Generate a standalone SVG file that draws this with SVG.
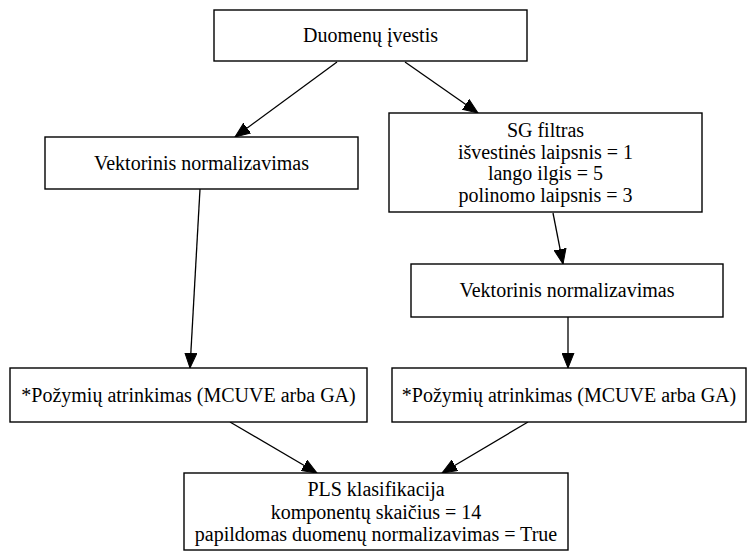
<svg xmlns="http://www.w3.org/2000/svg" width="748" height="552" viewBox="0 0 748 552">
  <defs>
    <style>
      .box { fill: #ffffff; stroke: #000000; stroke-width: 1.4; }
      .lbl { font-family: "Liberation Serif", "Times New Roman", serif; font-size: 20px; fill: #000000; text-anchor: middle; }
      .edge { fill: none; stroke: #000000; stroke-width: 1.3; }
    </style>
    <marker id="arrow" markerUnits="userSpaceOnUse" markerWidth="17" markerHeight="13" refX="15" refY="6.5" orient="auto">
      <path d="M0,0.5 L15,6.5 L0,12.5 z" fill="#000000" stroke="#000000" stroke-width="1"/>
    </marker>
  </defs>
  <rect width="748" height="552" fill="#ffffff"/>

  <!-- connectors -->
  <g id="edges">
    <line class="edge" x1="337" y1="62" x2="235" y2="137" marker-end="url(#arrow)"/>
    <line class="edge" x1="405" y1="62" x2="478" y2="113" marker-end="url(#arrow)"/>
    <line class="edge" x1="200" y1="189" x2="190" y2="368" marker-end="url(#arrow)"/>
    <line class="edge" x1="553" y1="213" x2="563" y2="264" marker-end="url(#arrow)"/>
    <line class="edge" x1="568" y1="317" x2="568" y2="368" marker-end="url(#arrow)"/>
    <line class="edge" x1="230" y1="422" x2="317" y2="473" marker-end="url(#arrow)"/>
    <line class="edge" x1="528" y1="422" x2="442" y2="473" marker-end="url(#arrow)"/>
  </g>

  <!-- nodes -->
  <g id="input">
    <rect class="box" x="214" y="10" width="313" height="51"/>
    <text class="lbl" x="370.5" y="42">Duomenų įvestis</text>
  </g>

  <g id="norm-left">
    <rect class="box" x="45" y="137" width="313" height="52"/>
    <text class="lbl" x="201.5" y="170">Vektorinis normalizavimas</text>
  </g>

  <g id="sg-filter">
    <rect class="box" x="389" y="113" width="313" height="99"/>
    <text class="lbl" x="545.5" y="137">SG filtras</text>
    <text class="lbl" x="545.5" y="159">išvestinės laipsnis = 1</text>
    <text class="lbl" x="545.5" y="180">lango ilgis = 5</text>
    <text class="lbl" x="545.5" y="202">polinomo laipsnis = 3</text>
  </g>

  <g id="norm-right">
    <rect class="box" x="411" y="264" width="312" height="53"/>
    <text class="lbl" x="567" y="297">Vektorinis normalizavimas</text>
  </g>

  <g id="select-left">
    <rect class="box" x="10" y="368" width="357" height="54"/>
    <text class="lbl" x="188.5" y="402">*Požymių atrinkimas (MCUVE arba GA)</text>
  </g>

  <g id="select-right">
    <rect class="box" x="392" y="368" width="354" height="54"/>
    <text class="lbl" x="569" y="402">*Požymių atrinkimas (MCUVE arba GA)</text>
  </g>

  <g id="pls">
    <rect class="box" x="184" y="473" width="384" height="77"/>
    <text class="lbl" x="376" y="496">PLS klasifikacija</text>
    <text class="lbl" x="376" y="519">komponentų skaičius = 14</text>
    <text class="lbl" x="376" y="541">papildomas duomenų normalizavimas = True</text>
  </g>
</svg>
